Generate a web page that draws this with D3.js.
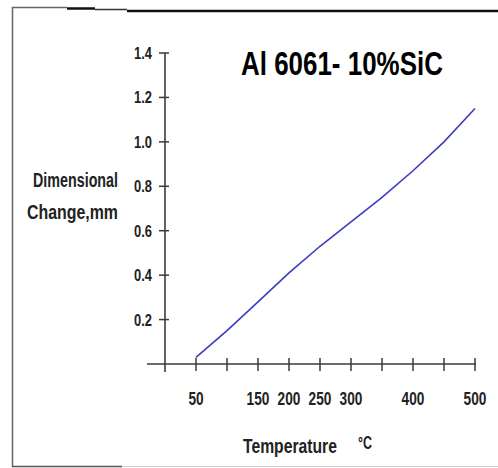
<!DOCTYPE html>
<html>
<head>
<meta charset="utf-8">
<script src="https://cdn.jsdelivr.net/npm/d3@7"></script>
<style>
  body { margin: 0; background: #fff; }
  svg text { font-family: "Liberation Sans", Arial, sans-serif; font-weight: bold; }
</style>
</head>
<body>
<div id="chart"></div>
<script>
// temperature (deg C) vs dimensional change (mm)
const temps = [50, 100, 150, 200, 250, 300, 350, 400, 450, 500];
const change = [0.03, 0.15, 0.28, 0.41, 0.53, 0.64, 0.75, 0.87, 1.0, 1.15];
const xTicks = [50, 100, 150, 200, 250, 300, 350, 400, 450, 500];
const xTickLabels = [50, 150, 200, 250, 300, 400, 500];
const yTicks = [0.2, 0.4, 0.6, 0.8, 1.0, 1.2, 1.4];

const W = 498, H = 468;
const svg = d3.select("#chart").append("svg")
    .attr("width", W)
    .attr("height", H);

// frame around the picture (scanned look)
const frame = svg.append("g").attr("fill", "none");
frame.append("path").attr("d", "M12.5,467 L12.5,7.5 L67,7.5").attr("stroke", "#666").attr("stroke-width", 1.5);
frame.append("path").attr("d", "M67,8.5 L95,8.5").attr("stroke", "#111").attr("stroke-width", 2.5);
frame.append("path").attr("d", "M95,9.5 L127,9.5").attr("stroke", "#333").attr("stroke-width", 1.5);
frame.append("path").attr("d", "M127,11 L498,11").attr("stroke", "#111").attr("stroke-width", 2.5);
frame.append("path").attr("d", "M122,466.5 L498,466.5").attr("stroke", "#ccc").attr("stroke-width", 1);
frame.append("path").attr("d", "M12,466.5 L122,466.5").attr("stroke", "#555").attr("stroke-width", 1.5);

const x = d3.scaleLinear().domain([0, 500]).range([165, 475]);
const y = d3.scaleLinear().domain([0, 1.4]).range([364, 53]);

const axisCol = "#3a3a3a";

// squeeze a text horizontally so it is w px wide, anchored at (px, py)
function squeeze(sel, px, py, w) {
    sel.each(function(d, i) {
        const node = this;
        const X = typeof px === "function" ? px(d, i) : px;
        const Y = typeof py === "function" ? py(d, i) : py;
        const W0 = typeof w === "function" ? w(d, i) : w;
        const k = W0 / node.getComputedTextLength();
        d3.select(node).attr("transform", "translate(" + X + "," + Y + ") scale(" + k + ",1)");
    });
}

// y axis
svg.append("line")
    .attr("x1", x(0)).attr("x2", x(0))
    .attr("y1", y(1.4)).attr("y2", 372)
    .attr("stroke", axisCol).attr("stroke-width", 1.6);
svg.selectAll(".ytick").data(yTicks).join("line")
    .attr("class", "ytick")
    .attr("x1", x(0) - 6).attr("x2", x(0) + 4)
    .attr("y1", d => y(d)).attr("y2", d => y(d))
    .attr("stroke", axisCol).attr("stroke-width", 1.5);
svg.selectAll(".ylab").data(yTicks).join("text")
    .attr("class", "ylab")
    .attr("text-anchor", "end")
    .attr("font-size", 17)
    .attr("fill", "#222")
    .text(d => d.toFixed(1))
    .call(squeeze, 152, d => y(d) + 6, 18);

// x axis
svg.append("line")
    .attr("x1", 147).attr("x2", x(500) + 1)
    .attr("y1", y(0)).attr("y2", y(0))
    .attr("stroke", axisCol).attr("stroke-width", 1.6);
svg.selectAll(".xtick").data(xTicks).join("line")
    .attr("class", "xtick")
    .attr("x1", d => x(d)).attr("x2", d => x(d))
    .attr("y1", y(0) - 6).attr("y2", y(0) + 7)
    .attr("stroke", axisCol).attr("stroke-width", 1.5);
svg.selectAll(".xlab").data(xTickLabels).join("text")
    .attr("class", "xlab")
    .attr("text-anchor", "middle")
    .attr("font-size", 19)
    .attr("fill", "#222")
    .text(d => d)
    .call(squeeze, d => x(d), 405, d => String(d).length * 7.6);

// the curve
const line = d3.line()
    .x((d, i) => x(temps[i]))
    .y(d => y(d));
svg.append("path")
    .datum(change)
    .attr("d", line)
    .attr("fill", "none")
    .attr("stroke", "#3c3cc0")
    .attr("stroke-width", 1.6);

// title and labels
svg.append("text")
    .attr("font-size", 33)
    .text("Al 6061- 10%SiC")
    .call(squeeze, 241, 75, 202);

svg.append("text")
    .attr("text-anchor", "end")
    .attr("font-size", 21).attr("fill", "#222")
    .text("Dimensional")
    .call(squeeze, 118, 187, 85);
svg.append("text")
    .attr("text-anchor", "end")
    .attr("font-size", 21).attr("fill", "#222")
    .text("Change,mm")
    .call(squeeze, 118, 219, 91);

svg.append("text")
    .attr("font-size", 21).attr("fill", "#222")
    .text("Temperature")
    .call(squeeze, 243, 453, 94);
svg.append("text")
    .attr("font-size", 18).attr("fill", "#222")
    .text("°C")
    .call(squeeze, 358, 449, 14);
</script>
</body>
</html>
